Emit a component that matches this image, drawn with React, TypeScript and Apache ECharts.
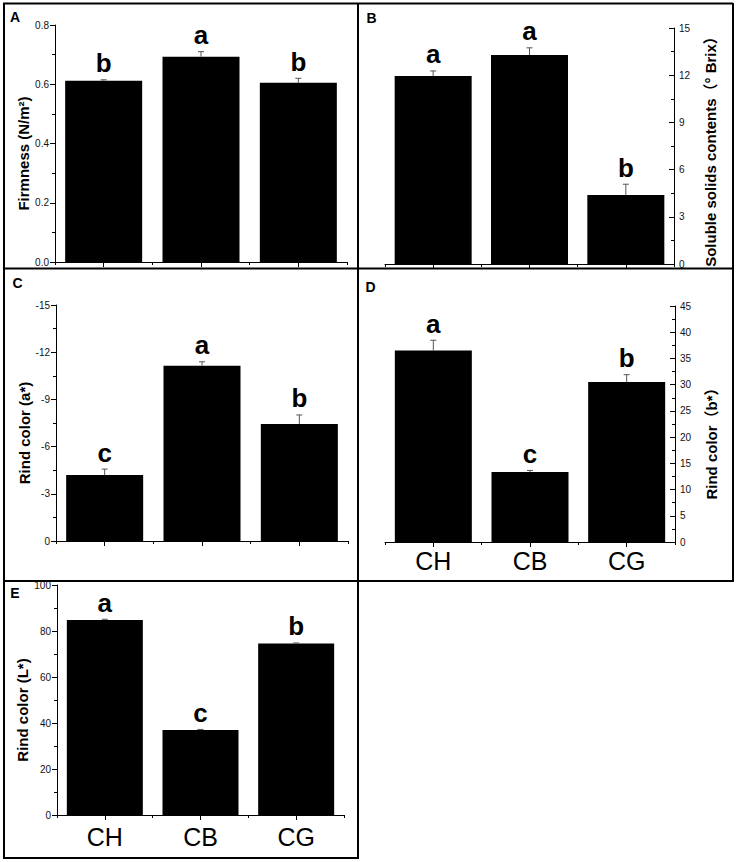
import React, { useEffect, useRef } from "react";
import * as echarts from "echarts";

const categories = ["CH", "CB", "CG"];

const firmness = [0.612, 0.693, 0.605];
const firmnessErr = [0.003, 0.017, 0.015];
const firmnessLetters = ["b", "a", "b"];

const solubleSolids = [11.95, 13.28, 4.39];
const solubleSolidsErr = [0.32, 0.46, 0.68];
const solubleSolidsLetters = ["a", "a", "b"];

const rindA = [-4.19, -11.14, -7.44];
const rindAErr = [0.38, 0.25, 0.57];
const rindALetters = ["c", "a", "b"];

const rindB = [36.5, 13.35, 30.5];
const rindBErr = [1.97, 0.3, 1.4];
const rindBLetters = ["a", "c", "b"];

const rindL = [84.8, 37.0, 74.6];
const rindLErr = [0.3, 0.2, 0.2];
const rindLLetters = ["a", "c", "b"];

const F = 'Arial, "Liberation Sans", "Noto Sans CJK SC", sans-serif';

type Panel = {
  letter: string;
  letterPos: [number, number];
  grid: { left: number; top: number; width: number; height: number };
  side: "left" | "right";
  min: number;
  max: number;
  interval: number;
  inverse?: boolean;
  decimals: number;
  name: string;
  nameGap: number;
  namePad: number;
  showX: boolean;
  xMargin: number;
  barWidth: number;
  values: number[];
  errs: number[];
  letters: string[];
};

const panels: Panel[] = [
  {
    letter: "A", letterPos: [15, 17],
    grid: { left: 55, top: 25, width: 292, height: 237 },
    side: "left", min: 0, max: 0.8, interval: 0.2, decimals: 1,
    name: "Firmness (N/m²)", nameGap: 22, namePad: 20,
    showX: false, xMargin: 8, barWidth: 77,
    values: firmness, errs: firmnessErr, letters: firmnessLetters,
  },
  {
    letter: "B", letterPos: [371.5, 18],
    grid: { left: 385, top: 28, width: 289, height: 236 },
    side: "right", min: 0, max: 15, interval: 3, decimals: 0,
    name: "Soluble solids contents（° Brix）", nameGap: 29, namePad: 4,
    showX: false, xMargin: 8, barWidth: 77,
    values: solubleSolids, errs: solubleSolidsErr, letters: solubleSolidsLetters,
  },
  {
    letter: "C", letterPos: [17.5, 282.5],
    grid: { left: 56, top: 305, width: 292, height: 236 },
    side: "left", min: -15, max: 0, interval: 3, inverse: true, decimals: 0,
    name: "Rind color (a*)", nameGap: 22, namePad: 20,
    showX: false, xMargin: 8, barWidth: 77,
    values: rindA, errs: rindAErr, letters: rindALetters,
  },
  {
    letter: "D", letterPos: [370.5, 287],
    grid: { left: 385, top: 306, width: 290, height: 236 },
    side: "right", min: 0, max: 45, interval: 5, decimals: 0,
    name: "Rind color（b*）", nameGap: 29, namePad: 32,
    showX: true, xMargin: 6, barWidth: 77,
    values: rindB, errs: rindBErr, letters: rindBLetters,
  },
  {
    letter: "E", letterPos: [15, 593],
    grid: { left: 57, top: 585, width: 287, height: 230 },
    side: "left", min: 0, max: 100, interval: 20, decimals: 0,
    name: "Rind color (L*)", nameGap: 22, namePad: 20,
    showX: true, xMargin: 9, barWidth: 76,
    values: rindL, errs: rindLErr, letters: rindLLetters,
  },
];

function makeRender(letters: string[]) {
  return (params: any, api: any) => {
    const idx = api.value(0);
    const v = api.value(1);
    const e = api.value(2);
    const end = v + (v < 0 ? -e : e);
    const p0 = api.coord([idx, v]);
    const p1 = api.coord([idx, end]);
    return {
      type: "group",
      children: [
        {
          type: "line",
          shape: { x1: p0[0], y1: p0[1], x2: p1[0], y2: p1[1] },
          style: { stroke: "#555", lineWidth: 1 },
        },
        {
          type: "line",
          shape: { x1: p1[0] - 3, y1: p1[1], x2: p1[0] + 3, y2: p1[1] },
          style: { stroke: "#555", lineWidth: 1 },
        },
        {
          type: "text",
          x: p1[0],
          y: p1[1] - 16.5,
          style: {
            text: letters[params.dataIndex],
            fontSize: 26,
            fontWeight: "bold",
            fontFamily: F,
            fill: "#000",
            align: "center",
            verticalAlign: "middle",
          },
        },
      ],
    };
  };
}

export default function App() {
  const ref = useRef<HTMLDivElement>(null);
  useEffect(() => {
    document.body.style.margin = "0";
    document.body.style.overflow = "hidden";
    if (!ref.current) return;
    const chart = echarts.init(ref.current, undefined, { renderer: "svg" });

    const grids: any[] = [];
    const xAxes: any[] = [];
    const yAxes: any[] = [];
    const series: any[] = [];

    panels.forEach((p, g) => {
      grids.push({ ...p.grid, containLabel: false });
      xAxes.push({
        type: "category",
        gridIndex: g,
        data: categories,
        position: "bottom",
        boundaryGap: true,
        axisLine: { show: true, lineStyle: { color: "#000", width: 1 } },
        axisTick: { show: true, alignWithLabel: true, length: 5, lineStyle: { color: "#000" } },
        axisLabel: {
          show: p.showX,
          fontSize: 25,
          fontFamily: F,
          color: "#000",
          margin: p.xMargin,
        },
        splitLine: { show: false },
      });
      xAxes.push({
        type: "category",
        gridIndex: g,
        data: categories,
        position: "bottom",
        boundaryGap: true,
        axisLine: { show: false },
        axisTick: { show: true, alignWithLabel: false, length: 3, lineStyle: { color: "#000" } },
        axisLabel: { show: false },
        splitLine: { show: false },
      });
      yAxes.push({
        type: "value",
        gridIndex: g,
        position: p.side,
        min: p.min,
        max: p.max,
        interval: p.interval,
        inverse: !!p.inverse,
        axisLine: { show: true, lineStyle: { color: "#000", width: 1 } },
        axisTick: { show: true, inside: p.side === "right", length: 5, lineStyle: { color: "#000" } },
        minorTick: { show: true, splitNumber: 2, length: 3, lineStyle: { color: "#000" } },
        splitLine: { show: false },
        minorSplitLine: { show: false },
        axisLabel: {
          fontSize: 10,
          fontFamily: F,
          color: "#111",
          margin: p.side === "right" ? 5 : 6,
          formatter: (val: number) => val.toFixed(p.decimals),
        },
        name: p.name,
        nameLocation: "middle",
        nameRotate: 90,
        nameGap: p.nameGap,
        nameTextStyle: {
          fontSize: 15,
          fontWeight: "bold",
          fontFamily: F,
          color: "#000",
          padding: [0, p.namePad, 0, 0],
        },
      });
      series.push({
        type: "bar",
        xAxisIndex: 2 * g,
        yAxisIndex: g,
        data: p.values,
        barWidth: p.barWidth,
        itemStyle: { color: "#000" },
        silent: true,
      });
      series.push({
        type: "custom",
        xAxisIndex: 2 * g,
        yAxisIndex: g,
        data: p.values.map((v, i) => [i, v, p.errs[i]]),
        dimensions: ["x", "y", "err"],
        encode: { x: 0, y: 1 },
        renderItem: makeRender(p.letters),
        clip: false,
        z: 5,
        silent: true,
      });
    });

    const lw = 2;
    const frameLines: [number, number, number, number][] = [
      [3, 3.5, 733, 3.5],
      [4, 3, 4, 859],
      [358, 3, 358, 859],
      [733, 3, 733, 582],
      [4, 268.5, 733, 268.5],
      [4, 581, 733, 581],
      [3, 858, 359, 858],
    ];
    const graphic: any[] = frameLines.map(([x1, y1, x2, y2]) => ({
      type: "line",
      shape: { x1, y1, x2, y2 },
      style: { stroke: "#000", lineWidth: lw },
      z: 100,
      silent: true,
    }));
    panels.forEach((p) => {
      graphic.push({
        type: "text",
        x: p.letterPos[0],
        y: p.letterPos[1],
        style: {
          text: p.letter,
          fontSize: 14,
          fontWeight: "bold",
          fontFamily: F,
          fill: "#000",
          align: "center",
          verticalAlign: "middle",
        },
        z: 100,
      });
    });

    chart.setOption({
      animation: false,
      backgroundColor: "#fff",
      grid: grids,
      xAxis: xAxes,
      yAxis: yAxes,
      series,
      graphic,
    });
    return () => chart.dispose();
  }, []);
  return <div ref={ref} style={{ width: 737, height: 862 }} />;
}
